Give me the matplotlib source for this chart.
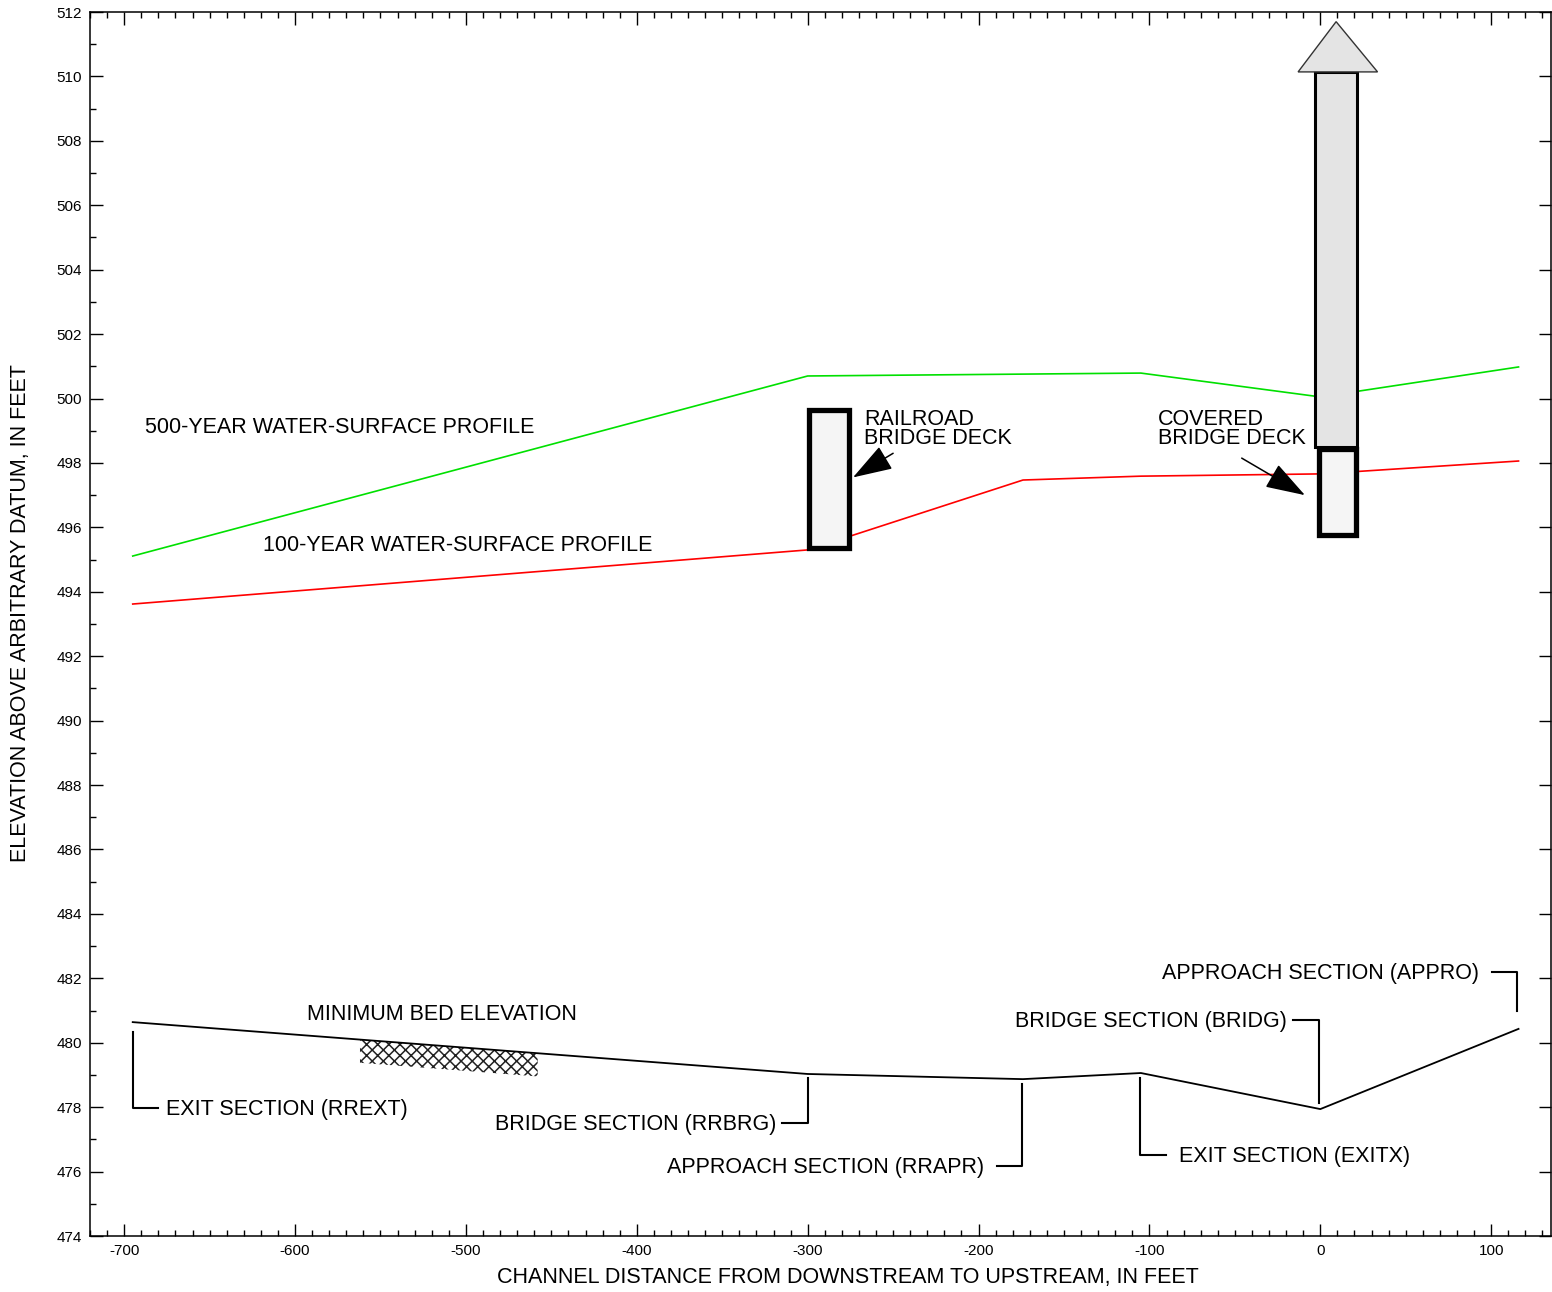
import matplotlib
matplotlib.use("Agg")
import matplotlib.pyplot as plt
from matplotlib.patches import Rectangle, Polygon
from matplotlib.ticker import MultipleLocator

plt.rcParams['font.family'] = ['Liberation Sans', 'DejaVu Sans']
plt.rcParams['axes.unicode_minus'] = False
plt.rcParams['hatch.linewidth'] = 1.1

# minimum bed elevation along the channel
bed_x = [-695, -300, -174, -105, 0, 116]
bed_y = [480.64, 479.03, 478.87, 479.06, 477.94, 480.43]

# water-surface profiles
wsp500_x = [-695, -300, -105, 0, 116]
wsp500_y = [495.11, 500.70, 500.79, 500.05, 500.98]
wsp100_x = [-695, -300, -174, -105, 0, 116]
wsp100_y = [493.62, 495.30, 497.47, 497.59, 497.66, 498.06]

# bridge decks: (left x, right x, low chord, high chord)
railroad_deck = (-299, -276, 495.36, 499.64)
covered_deck = (-1, 21, 495.76, 498.43)
# covered bridge upper part continues off the chart
covered_top = (-3, 21.5, 498.5, 510.14)

# scour / hatched zone under the bed line
hatch_x = [-562, -458]
hatch_depth = 0.72

# section labels: name, x of section, leader top, leader bottom, text x
lower_sections = [
    ("EXIT SECTION (RREXT)", -695, 480.33, 477.97, -675.5),
    ("BRIDGE SECTION (RRBRG)", -300, 478.90, 477.51, -318.5),
    ("APPROACH SECTION (RRAPR)", -174.5, 478.72, 476.17, -197.0),
    ("EXIT SECTION (EXITX)", -105.5, 478.90, 476.51, -82.5),
]
upper_sections = [
    ("BRIDGE SECTION (BRIDG)", -1, 480.70, 478.13, -19.5),
    ("APPROACH SECTION (APPRO)", 115.3, 482.20, 481.00, 92.8),
]

FS = 15.5

fig = plt.figure(figsize=(15.52, 12.92), dpi=100)
ax = fig.add_axes([90 / 1552, 1 - 1236 / 1292, 1461 / 1552, 1224 / 1292])

ax.set_xlim(-720, 135)
ax.set_ylim(474, 512)

# profiles
ax.plot(wsp500_x, wsp500_y, color="#00e000", lw=1.2, zorder=2)
ax.plot(wsp100_x, wsp100_y, color="#ff0000", lw=1.2, zorder=2)
ax.plot(bed_x, bed_y, color="black", lw=1.3, zorder=3)

# hatched zone following the bed line
def bed_at(x):
    for i in range(len(bed_x) - 1):
        if bed_x[i] <= x <= bed_x[i + 1]:
            t = (x - bed_x[i]) / (bed_x[i + 1] - bed_x[i])
            return bed_y[i] + t * (bed_y[i + 1] - bed_y[i])
    return bed_y[-1]

top_l, top_r = bed_at(hatch_x[0]), bed_at(hatch_x[1])
hatch_poly = Polygon([(hatch_x[0], top_l), (hatch_x[1], top_r),
                      (hatch_x[1], top_r - hatch_depth), (hatch_x[0], top_l - hatch_depth)],
                     closed=True, facecolor="none", edgecolor="#222222", lw=0, hatch="xxx", zorder=2)
ax.add_patch(hatch_poly)

# bridge decks
for deck in (railroad_deck, covered_deck):
    x0, x1, y0, y1 = deck
    ax.add_patch(Rectangle((x0, y0), x1 - x0, y1 - y0, facecolor="#f5f5f5",
                           edgecolor="black", lw=3.8, zorder=5))

# arrow showing the covered deck extends above the chart
x0, x1, y0, y1 = covered_top
ax.add_patch(Rectangle((x0, y0), x1 - x0, y1 - y0, facecolor="#e4e4e4",
                       edgecolor="black", lw=2.2, zorder=4))
mid = (x0 + x1) / 2
ax.add_patch(Polygon([(x0 - 10, y1), (x1 + 12, y1), (mid, 511.7)], closed=True,
                     facecolor="#e4e4e4", edgecolor="#333333", lw=1.0, zorder=4))

# profile labels
ax.text(-688, 499.1, "500-YEAR WATER-SURFACE PROFILE", fontsize=FS, ha="left", va="center")
ax.text(-619, 495.43, "100-YEAR WATER-SURFACE PROFILE", fontsize=FS, ha="left", va="center")
ax.text(-593, 480.87, "MINIMUM BED ELEVATION", fontsize=FS, ha="left", va="center")

# deck labels with arrows
ax.text(-267, 499.05, "RAILROAD\nBRIDGE DECK", fontsize=FS, ha="left", va="center", linespacing=0.85)
ax.text(-95, 499.05, "COVERED\nBRIDGE DECK", fontsize=FS, ha="left", va="center", linespacing=0.85)
arrow_style = dict(arrowstyle="-|>,head_length=1.0,head_width=0.33", color="black",
                   lw=1.1, mutation_scale=25, shrinkA=0, shrinkB=0)
ax.annotate("", xy=(-273.5, 497.55), xytext=(-250, 498.3), arrowprops=arrow_style, zorder=6)
ax.annotate("", xy=(-9, 497.0), xytext=(-46, 498.15), arrowprops=arrow_style, zorder=6)

# section leaders along the bed
for name, sx, ytop, ybot, tx in lower_sections:
    hx = sx + 15 if tx > sx else sx - 15
    ha = "left" if tx > sx else "right"
    ax.plot([sx, sx, hx], [ytop, ybot, ybot], color="black", lw=1.5, zorder=3)
    ax.text(tx, ybot - 0.04, name, fontsize=FS, ha=ha, va="center")

for name, sx, ytop, ybot, tx in upper_sections:
    ax.plot([sx - 15, sx, sx], [ytop, ytop, ybot], color="black", lw=1.5, zorder=3)
    ax.text(tx, ytop - 0.04, name, fontsize=FS, ha="right", va="center")

# axes styling
ax.xaxis.set_major_locator(MultipleLocator(100))
ax.xaxis.set_minor_locator(MultipleLocator(10))
ax.yaxis.set_major_locator(MultipleLocator(2))
ax.yaxis.set_minor_locator(MultipleLocator(1))
ax.tick_params(which="both", direction="in", top=True, right=True, width=1.0, labelsize=11)
ax.tick_params(which="major", length=9, pad=6)
ax.tick_params(which="minor", length=4.5)
ax.tick_params(axis="y", which="minor", right=False)
for sp in ax.spines.values():
    sp.set_linewidth(1.1)

fig.text(848 / 1552, 1 - 1278 / 1292, "CHANNEL DISTANCE FROM DOWNSTREAM TO UPSTREAM, IN FEET",
         fontsize=FS, ha="center", va="center")
fig.text(21 / 1552, 1 - 613 / 1292, "ELEVATION ABOVE ARBITRARY DATUM, IN FEET",
         fontsize=FS, ha="center", va="center", rotation=90)

fig.savefig("out.png", dpi=100)
